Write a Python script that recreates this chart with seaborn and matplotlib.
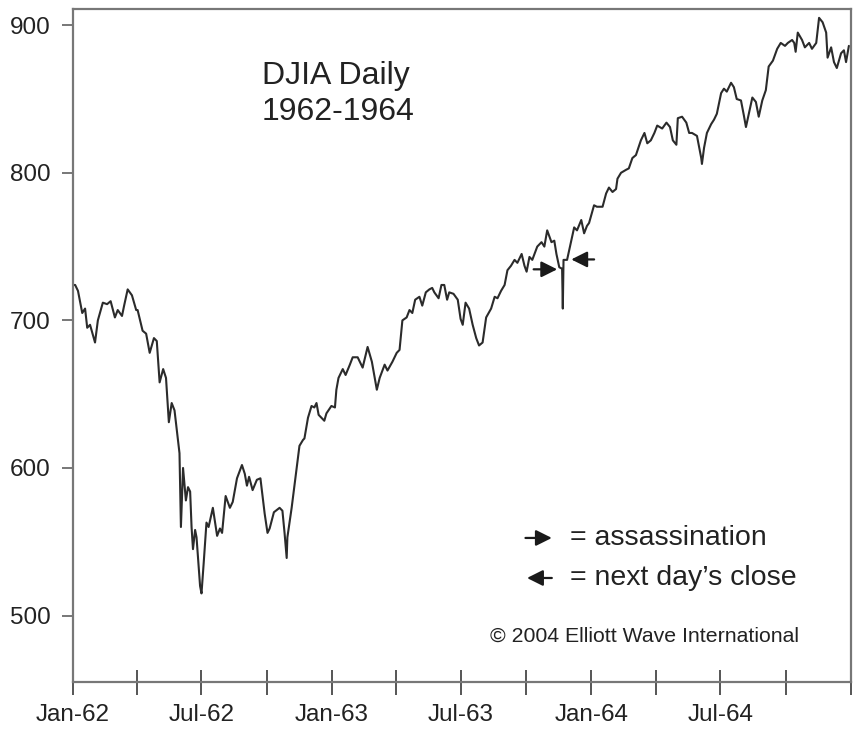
import pandas as pd
import matplotlib
matplotlib.use('Agg')
import matplotlib.pyplot as plt
import matplotlib.dates as mdates
import seaborn as sns

# DJIA daily close 1962-1964 (days since 1962-01-01, index level)
start_date = '1962-01-01'
days_since_start = [
    1, 3, 7, 13, 17, 20, 24, 31, 35, 42, 48, 53, 59, 63, 69, 72, 77, 83, 89, 91,
    98, 103, 108, 114, 118, 122, 127, 131, 135, 139, 143, 150, 152, 155, 159, 162,
    165, 167, 169, 172, 174, 179, 181, 184, 188, 191, 197, 203, 207, 210, 215, 221,
    225, 231, 238, 242, 245, 248, 253, 259, 264, 270, 274, 277, 283, 291, 295, 298,
    301, 302, 308, 315, 319, 324, 326, 331, 336, 340, 343, 346, 354, 357, 364, 369,
    371, 374, 380, 384, 390, 394, 401, 408, 415, 421, 428, 432, 439, 443, 450, 456,
    460, 464, 470, 474, 478, 482, 488, 492, 497, 502, 506, 509, 515, 519, 523, 527,
    530, 536, 542, 546, 549, 553, 558, 563, 568, 572, 577, 582, 589, 594, 598, 603,
    608, 612, 617, 622, 626, 632, 636, 639, 643, 647, 654, 660, 664, 668, 674, 678,
    681, 685, 689, 690, 691, 696, 702, 706, 710, 716, 720, 724, 727, 734, 738, 746,
    751, 755, 760, 765, 767, 772, 779, 783, 788, 793, 800, 805, 809, 814, 819, 823,
    830, 836, 841, 845, 850, 852, 858, 864, 868, 872, 879, 885, 886, 889, 893, 899,
    903, 907, 913, 917, 921, 927, 931, 935, 941, 945, 948, 952, 957, 962, 966, 971,
    976, 980, 986, 992, 997, 1003, 1007, 1013, 1016, 1018, 1021, 1027, 1031, 1037,
    1041, 1047, 1051, 1056, 1061, 1063, 1068, 1072, 1076, 1082, 1086, 1089, 1093,
]
djia_close = [
    724, 724, 720, 705, 708, 695, 697, 685, 700, 712, 711, 713, 702, 707, 703, 710, 721, 717, 707, 707,
    693, 691, 678, 688, 686, 658, 667, 661, 631, 644, 639, 610, 560, 600, 578, 587,
    584, 560, 545, 558, 553, 520, 515, 535, 563, 560, 573, 554, 559, 556, 581, 573,
    577, 593, 602, 596, 588, 594, 585, 592, 593, 569, 556, 559, 570, 573, 571, 556,
    539, 553, 573, 600, 615, 619, 620, 634, 642, 641, 644, 636, 632, 637, 642, 641,
    653, 661, 667, 663, 670, 675, 675, 668, 682, 672, 653, 661, 670, 666, 672, 678,
    680, 700, 702, 707, 705, 714, 716, 710, 719, 721, 722, 719, 715, 724, 724, 714,
    719, 718, 714, 701, 697, 712, 708, 697, 688, 683, 685, 702, 708, 716, 715, 720,
    724, 734, 737, 741, 739, 745, 737, 733, 743, 741, 750, 753, 750, 761, 753, 754,
    745, 736, 735, 708, 741, 741, 754, 763, 761, 768, 759, 764, 766, 778, 777, 777,
    786, 790, 787, 789, 796, 800, 802, 803, 810, 812, 822, 827, 820, 822, 827, 832,
    830, 834, 831, 822, 819, 837, 838, 834, 827, 827, 825, 810, 806, 817, 827, 833,
    836, 840, 854, 857, 855, 861, 858, 850, 849, 839, 831, 840, 851, 848, 838, 849,
    856, 872, 876, 884, 888, 886, 888, 890, 888, 882, 895, 890, 885, 888,
    884, 888, 905, 902, 895, 878, 885, 875, 871, 881, 883, 875, 886,
]

y_ticks = [500, 600, 700, 800, 900]
title_text = 'DJIA Daily\n1962-1964'
key_labels = ['= assassination', '= next day\u2019s close']
credit_text = '\u00a9 2004 Elliott Wave International'

df = pd.DataFrame({
    'date': pd.to_datetime(start_date) + pd.to_timedelta(days_since_start, unit='D'),
    'close': djia_close,
})

sns.set_theme(style='white')
plt.rcParams['font.family'] = ['Liberation Sans', 'DejaVu Sans']

fig = plt.figure(figsize=(8.54, 7.30), dpi=100)
ax = fig.add_axes([0.0855, 0.0658, 0.9110, 0.9219])

sns.lineplot(data=df, x='date', y='close', ax=ax, estimator=None, sort=False,
             color='#2b2b2b', linewidth=1.5)

ax.set_xlim(pd.Timestamp('1962-01-01'), pd.Timestamp('1965-01-01'))
ax.set_ylim(455, 911)
ax.set_yticks(y_ticks)
ax.set_xlabel('')
ax.set_ylabel('')

ax.xaxis.set_major_locator(mdates.MonthLocator(bymonth=[1, 4, 7, 10]))


def month_label(x, pos):
    d = mdates.num2date(x)
    if d.month in (1, 7) and d.year < 1965:
        return d.strftime('%b-%y')
    return ''


ax.xaxis.set_major_formatter(plt.FuncFormatter(month_label))

for side in ['left', 'right', 'top', 'bottom']:
    ax.spines[side].set_color('#777777')
    ax.spines[side].set_linewidth(1.6)

ax.tick_params(axis='x', direction='inout', length=18, width=1.4, color='#555555',
               labelsize=17.5, labelcolor='#222222', pad=7, bottom=True)
ax.tick_params(axis='y', direction='out', length=8, width=1.4, color='#777777',
               labelsize=17.5, labelcolor='#222222', pad=8, left=True)

ax.text(0.243, 0.874, title_text, transform=ax.transAxes, fontsize=23,
        color='#222222', ha='left', va='center', linespacing=1.25)

# arrows at the Kennedy assassination day and the next day's close
arrow_kw = dict(arrowstyle='-|>', mutation_scale=24, lw=1.6, color='#1a1a1a')
t0 = pd.to_datetime(start_date)
ax.annotate('', xy=(t0 + pd.Timedelta(days=686), 734.6),
            xytext=(t0 + pd.Timedelta(days=645), 734.6), arrowprops=arrow_kw)
ax.annotate('', xy=(t0 + pd.Timedelta(days=698), 741.3),
            xytext=(t0 + pd.Timedelta(days=738), 741.3), arrowprops=arrow_kw)

# key
ax.annotate('', xy=(0.619, 0.214), xytext=(0.578, 0.214),
            xycoords='axes fraction', arrowprops=arrow_kw)
ax.annotate('', xy=(0.580, 0.1545), xytext=(0.619, 0.1545),
            xycoords='axes fraction', arrowprops=arrow_kw)
ax.text(0.639, 0.214, key_labels[0], transform=ax.transAxes, fontsize=20.5,
        color='#222222', ha='left', va='center')
ax.text(0.639, 0.1545, key_labels[1], transform=ax.transAxes, fontsize=20.5,
        color='#222222', ha='left', va='center')
ax.text(0.536, 0.068, credit_text, transform=ax.transAxes, fontsize=15.3,
        color='#222222', ha='left', va='center')

fig.savefig('out.png', dpi=100)
